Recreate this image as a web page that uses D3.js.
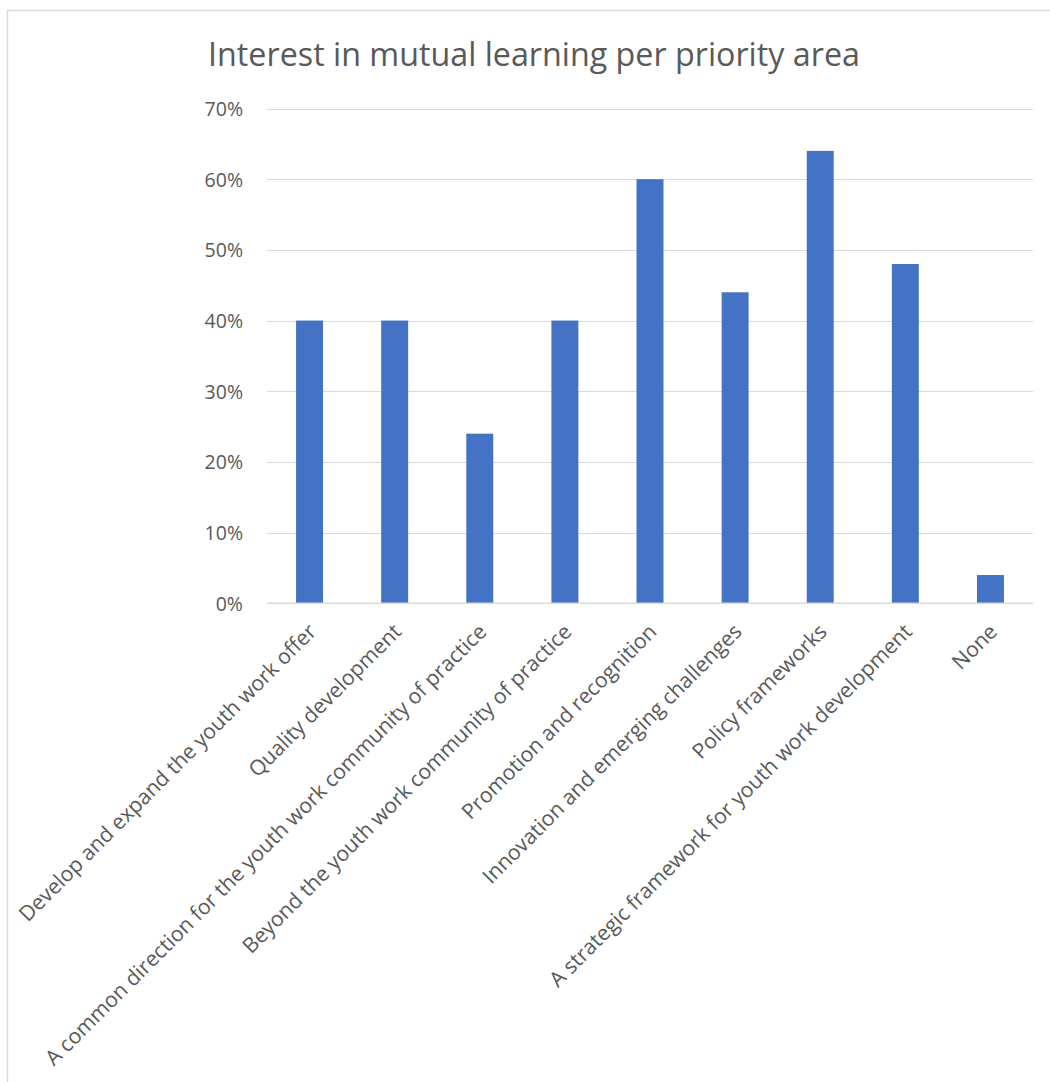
<!DOCTYPE html>
<html>
<head>
<meta charset="utf-8">
<script src="https://cdn.jsdelivr.net/npm/d3@7"></script>
<style>
  html, body { margin: 0; padding: 0; background: #fff; }
  svg { display: block; }
  text { font-family: "Open Sans", "Noto Sans", sans-serif; fill: #595959; }
</style>
</head>
<body>
<svg id="chart" width="1050" height="1082"></svg>
<script>
// Share of respondents interested in mutual learning, per priority area
const categories = [
  "Develop and expand the youth work offer",
  "Quality development",
  "A common direction for the youth work community of practice",
  "Beyond the youth work community of practice",
  "Promotion and recognition",
  "Innovation and emerging challenges",
  "Policy frameworks",
  "A strategic framework for youth work development",
  "None"
];
const values = [0.40, 0.40, 0.24, 0.40, 0.60, 0.44, 0.64, 0.48, 0.04];
const tickValues = [0, 0.1, 0.2, 0.3, 0.4, 0.5, 0.6, 0.7];
const titleText = "Interest in mutual learning per priority area";

const svg = d3.select("#chart");
const plot = { left: 267, right: 1033, top: 108.5, bottom: 603.3 };

// chart frame (extends past the right and bottom edges)
svg.append("rect")
  .attr("x", 7.5).attr("y", 10.5)
  .attr("width", 1200).attr("height", 1200)
  .attr("fill", "none").attr("stroke", "#d9d9d9").attr("stroke-width", 1.5);

const x = d3.scaleBand()
  .domain(categories)
  .range([plot.left, plot.right])
  .paddingInner(0.683)
  .paddingOuter(0.3415);

const y = d3.scaleLinear()
  .domain([0, 0.7])
  .range([plot.bottom, plot.top]);

// title, fitted to its width
const title = svg.append("text")
  .attr("x", 534).attr("y", 66)
  .attr("text-anchor", "middle")
  .style("font-size", "30px")
  .text(titleText);
{
  const w = title.node().getComputedTextLength();
  title.style("font-size", (30 * 652 / w) + "px");
}

// value axis labels
const yAxis = d3.axisLeft(y)
  .tickValues(tickValues)
  .tickFormat(d3.format(".0%"))
  .tickSize(0)
  .tickPadding(24);

const gy = svg.append("g")
  .attr("transform", `translate(${plot.left},0)`)
  .call(yAxis);
gy.select(".domain").remove();
gy.selectAll("text")
  .style("font-size", "19.5px")
  .attr("fill", "#595959")
  .attr("dy", "0.35em");

// horizontal gridlines
svg.append("g")
  .selectAll("line")
  .data(tickValues.filter(d => d > 0))
  .join("line")
  .attr("x1", plot.left).attr("x2", plot.right)
  .attr("y1", d => Math.round(y(d)) + 0.5)
  .attr("y2", d => Math.round(y(d)) + 0.5)
  .attr("stroke", "#d9d9d9").attr("stroke-width", 1.2);

// bars
svg.append("g")
  .selectAll("rect")
  .data(values)
  .join("rect")
  .attr("x", (d, i) => x(categories[i]))
  .attr("width", x.bandwidth())
  .attr("y", d => y(d))
  .attr("height", d => y(0) - y(d))
  .attr("fill", "#4472c4");

// category axis baseline
svg.append("line")
  .attr("x1", plot.left).attr("x2", plot.right)
  .attr("y1", plot.bottom).attr("y2", plot.bottom)
  .attr("stroke", "#d9d9d9").attr("stroke-width", 1.5);

// rotated category labels
const labels = svg.append("g")
  .selectAll("text")
  .data(categories)
  .join("text")
  .attr("text-anchor", "end")
  .attr("transform", d => `translate(${x(d) + x.bandwidth() / 2 + 8},633) rotate(-45)`)
  .style("font-size", "20px")
  .text(d => d);
{
  const w = labels.filter((d, i) => i === 0).node().getComputedTextLength();
  labels.style("font-size", (20 * 410 / w) + "px");
}
</script>
</body>
</html>
